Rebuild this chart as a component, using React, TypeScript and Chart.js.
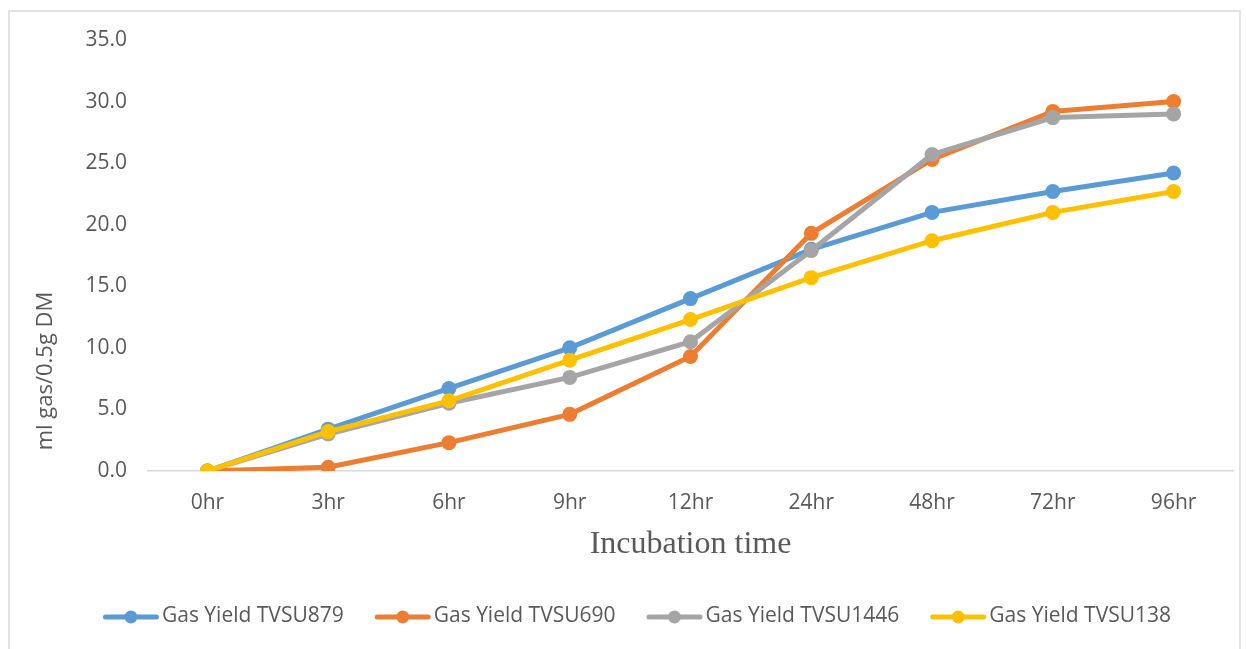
import React, { useEffect, useRef } from "react";
import { Chart, registerables } from "chart.js";

Chart.register(...registerables);

const categories = ["0hr", "3hr", "6hr", "9hr", "12hr", "24hr", "48hr", "72hr", "96hr"];
const seriesNames = ["Gas Yield TVSU879", "Gas Yield TVSU690", "Gas Yield TVSU1446", "Gas Yield TVSU138"];
const tvsu879 = [0, 3.4, 6.7, 10.0, 14.0, 18.0, 21.0, 22.7, 24.2];
const tvsu690 = [0, 0.3, 2.3, 4.6, 9.3, 19.3, 25.3, 29.2, 30.0];
const tvsu1446 = [0, 3.0, 5.5, 7.6, 10.5, 17.9, 25.7, 28.7, 29.0];
const tvsu138 = [0, 3.2, 5.7, 9.0, 12.3, 15.7, 18.7, 21.0, 22.7];
const colors = ["#5B9BD5", "#ED7D31", "#A5A5A5", "#FFC000"];
const yTitle = "ml gas/0.5g DM";
const xTitle = "Incubation time";

const TEXT = "#595959";
const SANS = "'Open Sans', 'Noto Sans', sans-serif";

export default function App() {
  const ref = useRef<HTMLCanvasElement | null>(null);

  useEffect(() => {
    document.body.style.margin = "0";
    const canvas = ref.current;
    if (!canvas) return;
    const values = [tvsu879, tvsu690, tvsu1446, tvsu138];

    const decor = {
      id: "decor",
      beforeDraw(chart: any) {
        const ctx = chart.ctx;
        ctx.save();
        ctx.fillStyle = "#ffffff";
        ctx.fillRect(0, 0, chart.width, chart.height);
        ctx.strokeStyle = "#d9d9d9";
        ctx.lineWidth = 1.5;
        ctx.beginPath();
        ctx.moveTo(9, chart.height + 5);
        ctx.lineTo(9, 11);
        ctx.lineTo(1240, 11);
        ctx.lineTo(1240, chart.height + 5);
        ctx.stroke();
        ctx.restore();
      },
      afterDraw(chart: any) {
        const ctx = chart.ctx;
        const area = chart.chartArea;
        ctx.save();
        // y title
        ctx.fillStyle = TEXT;
        ctx.font = `22px ${SANS}`;
        ctx.textAlign = "center";
        ctx.textBaseline = "middle";
        ctx.translate(46, 371);
        ctx.rotate(-Math.PI / 2);
        ctx.fillText(yTitle, 0, 0);
        ctx.restore();

        ctx.save();
        ctx.fillStyle = TEXT;
        ctx.font = `32px 'Liberation Serif', 'Times New Roman', serif`;
        ctx.textAlign = "center";
        ctx.textBaseline = "middle";
        ctx.fillText(xTitle, (area.left + area.right) / 2, 545);

        // legend
        ctx.font = `21px ${SANS}`;
        const lineLen = 56;
        const gap = 3;
        const itemGap = 31;
        const widths = seriesNames.map((n) => ctx.measureText(n).width);
        const total = widths.reduce((a, w) => a + lineLen + gap + w, 0) + itemGap * (seriesNames.length - 1);
        let x = 637 - total / 2;
        const y = 616;
        seriesNames.forEach((name, i) => {
          ctx.strokeStyle = colors[i];
          ctx.lineWidth = 5;
          ctx.lineCap = "round";
          ctx.beginPath();
          ctx.moveTo(x + 2.5, y + 1);
          ctx.lineTo(x + lineLen - 2.5, y + 1);
          ctx.stroke();
          ctx.fillStyle = colors[i];
          ctx.beginPath();
          ctx.arc(x + lineLen / 2, y + 1, 6.5, 0, Math.PI * 2);
          ctx.fill();
          ctx.fillStyle = TEXT;
          ctx.textAlign = "left";
          ctx.fillText(name, x + lineLen + gap, y);
          x += lineLen + gap + widths[i] + itemGap;
        });
        ctx.restore();
      },
    };

    const chart = new Chart(canvas, {
      type: "line",
      data: {
        labels: categories,
        datasets: seriesNames.map((name, i) => ({
          label: name,
          data: values[i],
          borderColor: colors[i],
          backgroundColor: colors[i],
          borderWidth: 5,
          pointRadius: 7.5,
          pointHoverRadius: 7.5,
          pointBorderWidth: 0,
          pointBackgroundColor: colors[i],
          tension: 0,
          order: seriesNames.length - i,
        })),
      },
      options: {
        animation: false,
        responsive: false,
        maintainAspectRatio: false,
        layout: { padding: { top: 40, right: 12, left: 0, bottom: 0 } },
        plugins: { legend: { display: false }, tooltip: { enabled: false } },
        scales: {
          x: {
            offset: true,
            grid: { display: false },
            border: { display: false },
            ticks: { color: TEXT, font: { family: SANS, size: 21 }, padding: 11, maxRotation: 0 },
            afterFit(scale: any) {
              scale.height = 178;
            },
          },
          y: {
            min: 0,
            max: 35,
            border: { display: false },
            grid: {
              drawTicks: false,
              color: (c: any) => (c.tick && c.tick.value === 0 ? "#d9d9d9" : "rgba(0,0,0,0)"),
              lineWidth: 1.5,
            },
            ticks: {
              stepSize: 5,
              color: TEXT,
              font: { family: SANS, size: 21 },
              padding: 20,
              callback: (v: any) => Number(v).toFixed(1),
            },
            afterFit(scale: any) {
              scale.width = 147;
            },
          },
        },
      },
      plugins: [decor],
    });
    return () => chart.destroy();
  }, []);

  return <canvas ref={ref} width={1246} height={649} style={{ display: "block" }} />;
}
